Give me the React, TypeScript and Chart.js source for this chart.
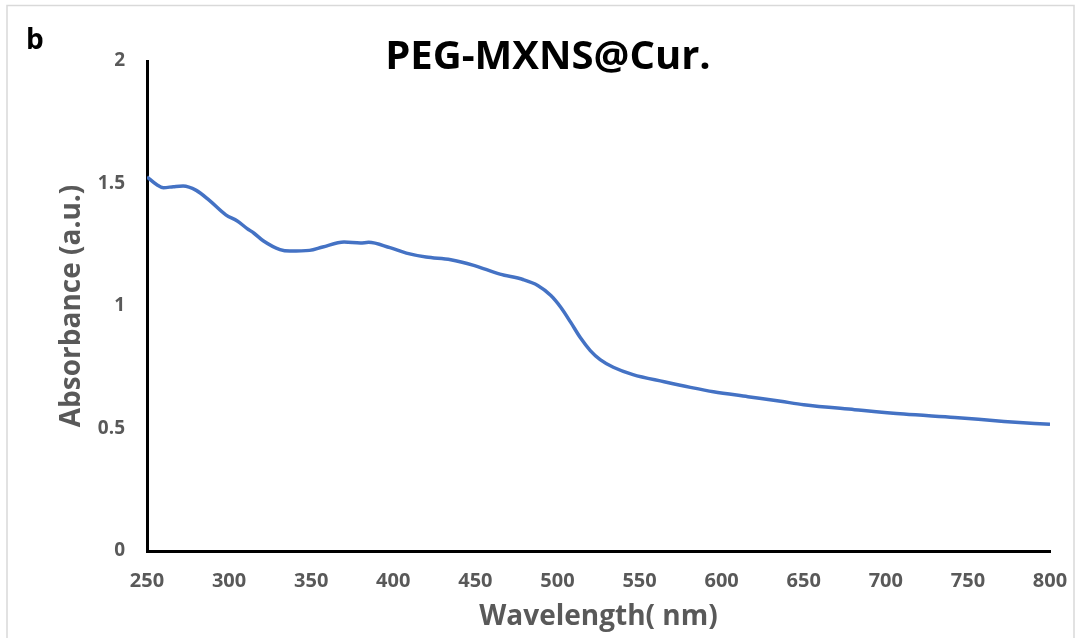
import React, { useEffect, useRef } from "react";
import { Chart, registerables } from "chart.js";

Chart.register(...registerables);

const wavelengths = [
  250, 256, 260, 266, 272, 280, 288, 298, 305, 311, 315, 321, 331, 337, 349, 357,
  370, 380, 385, 398, 408, 420, 435, 449, 465, 479, 488, 496, 502, 508, 514, 520,
  526, 534, 546, 565, 581, 595, 616, 636, 650, 681, 711, 742, 772, 800,
];
const absorbance = [
  1.527, 1.495, 1.483, 1.487, 1.49, 1.472, 1.431, 1.372, 1.347, 1.316, 1.298, 1.265,
  1.23, 1.224, 1.227, 1.241, 1.261, 1.257, 1.26, 1.238, 1.216, 1.2, 1.189, 1.166,
  1.13, 1.108, 1.084, 1.043, 0.995, 0.934, 0.87, 0.818, 0.781, 0.75, 0.72, 0.691,
  0.668, 0.65, 0.63, 0.611, 0.597, 0.577, 0.559, 0.545, 0.529, 0.517,
];
const xTicks = [250, 300, 350, 400, 450, 500, 550, 600, 650, 700, 750, 800];
const yTicks = [0, 0.5, 1, 1.5, 2];

const chartTitle = "PEG-MXNS@Cur.";
const panelLabel = "b";
const xTitle = "Wavelength( nm)";
const yTitle = "Absorbance (a.u.)";

const FONT = "'Open Sans', sans-serif";
const GRAY = "#595959";

export default function App() {
  const ref = useRef<HTMLCanvasElement>(null);

  useEffect(() => {
    document.body.style.margin = "0";
    const canvas = ref.current;
    if (!canvas) return;

    const decor = {
      id: "decor",
      beforeDraw(chart: any) {
        const ctx = chart.ctx;
        ctx.save();
        ctx.fillStyle = "#ffffff";
        ctx.fillRect(0, 0, chart.width, chart.height);
        ctx.strokeStyle = "#d9d9d9";
        ctx.lineWidth = 1.5;
        ctx.strokeRect(7, 5.5, chart.width - 12, chart.height + 10);
        ctx.restore();
      },
      afterDraw(chart: any) {
        const ctx = chart.ctx;
        ctx.save();
        ctx.fillStyle = "#000000";
        ctx.textBaseline = "alphabetic";
        ctx.textAlign = "left";
        ctx.font = `bold 28px ${FONT}`;
        ctx.fillText(panelLabel, 26, 49);
        ctx.textAlign = "center";
        ctx.font = `bold 40px ${FONT}`;
        ctx.fillText(chartTitle, 548, 69);
        ctx.restore();
      },
    };

    const chart = new Chart(canvas, {
      type: "line",
      data: {
        datasets: [
          {
            data: wavelengths.map((w, i) => ({ x: w, y: absorbance[i] })),
            borderColor: "#4472C4",
            borderWidth: 3.5,
            pointRadius: 0,
            cubicInterpolationMode: "monotone",
            fill: false,
          },
        ],
      },
      options: {
        responsive: false,
        animation: false,
        devicePixelRatio: 1,
        layout: { padding: { left: 0, right: 29, top: 61, bottom: 0 } },
        plugins: {
          legend: { display: false },
          title: { display: false },
          tooltip: { enabled: false },
        },
        scales: {
          x: {
            type: "linear",
            min: 250,
            max: 800,
            afterBuildTicks: (s: any) => {
              s.ticks = xTicks.map((v) => ({ value: v }));
            },
            afterFit: (s: any) => {
              s.height = 87;
              s.paddingLeft = 0;
              s.paddingRight = 0;
            },
            grid: {
              display: true,
              color: "rgba(0,0,0,0)",
              tickColor: "rgba(0,0,0,0)",
              drawTicks: true,
              tickLength: 18,
            },
            border: { display: true, color: "#000000", width: 3 },
            ticks: {
              padding: 0,
              color: GRAY,
              font: { family: FONT, size: 20, weight: "bold" },
              callback: (v: any) => String(v),
              maxRotation: 0,
              autoSkip: false,
            },
            title: {
              display: true,
              text: xTitle,
              color: GRAY,
              font: { family: FONT, size: 28, weight: "bold" },
              padding: { top: 0, bottom: 4 },
            },
          },
          y: {
            type: "linear",
            min: 0,
            max: 2,
            afterBuildTicks: (s: any) => {
              s.ticks = yTicks.map((v) => ({ value: v }));
            },
            afterFit: (s: any) => {
              s.width = 147;
            },
            grid: { display: true, color: "rgba(0,0,0,0)", drawTicks: false },
            border: { display: true, color: "#000000", width: 3 },
            ticks: {
              padding: 22,
              color: GRAY,
              font: { family: FONT, size: 19, weight: "bold" },
              callback: (v: any) => String(v),
            },
            title: {
              display: true,
              text: yTitle,
              color: GRAY,
              font: { family: FONT, size: 28, weight: "bold" },
              padding: { top: 55, bottom: 0 },
            },
          },
        },
      },
      plugins: [decor],
    } as any);

    return () => chart.destroy();
  }, []);

  return (
    <canvas
      ref={ref}
      width={1079}
      height={638}
      style={{ display: "block", width: 1079, height: 638 }}
    />
  );
}
